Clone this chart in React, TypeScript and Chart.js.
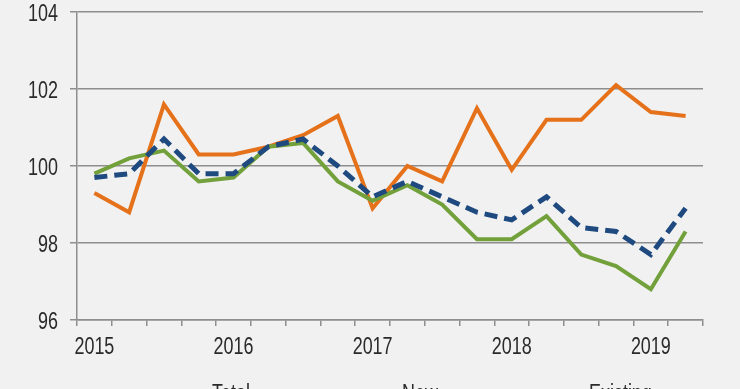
import React, { useEffect, useRef } from "react";
import { Chart, registerables } from "chart.js";

Chart.register(...registerables);

const quarters = [
  "2015Q1", "2015Q2", "2015Q3", "2015Q4",
  "2016Q1", "2016Q2", "2016Q3", "2016Q4",
  "2017Q1", "2017Q2", "2017Q3", "2017Q4",
  "2018Q1", "2018Q2", "2018Q3", "2018Q4",
  "2019Q1", "2019Q2",
];
const tickLabels = [
  "2015", "", "", "",
  "2016", "", "", "",
  "2017", "", "", "",
  "2018", "", "", "",
  "2019", "",
];
const totalValues = [99.7, 99.8, 100.7, 99.8, 99.8, 100.5, 100.7, 100.0, 99.2, 99.6, 99.2, 98.8, 98.6, 99.2, 98.4, 98.3, 97.7, 98.9];
const newValues = [99.3, 98.8, 101.6, 100.3, 100.3, 100.5, 100.8, 101.3, 98.9, 100.0, 99.6, 101.5, 99.9, 101.2, 101.2, 102.1, 101.4, 101.3];
const existingValues = [99.8, 100.2, 100.4, 99.6, 99.7, 100.5, 100.6, 99.6, 99.1, 99.5, 99.0, 98.1, 98.1, 98.7, 97.7, 97.4, 96.8, 98.3];
const seriesNames = ["Total", "New", "Existing"];
const yMin = 96;
const yMax = 104;
const yStep = 2;

const BLUE = "#1f4a80";
const ORANGE = "#e5721a";
const GREEN = "#72a03a";
const GRID = "#8e8e8e";
const TEXT = "#2a2a2a";
const FONT = "23px 'Liberation Sans', Arial, sans-serif";
const NARROW = 0.78;

function narrowText(ctx: CanvasRenderingContext2D, text: string, x: number, y: number, align: CanvasTextAlign) {
  ctx.save();
  ctx.translate(x, y);
  ctx.scale(NARROW, 1);
  ctx.textAlign = align;
  ctx.textBaseline = "alphabetic";
  ctx.fillText(text, 0, 0);
  ctx.restore();
}

const textPlugin = {
  id: "narrowText",
  afterDraw(chart: any) {
    const ctx = chart.ctx as CanvasRenderingContext2D;
    const xs = chart.scales.x;
    const ys = chart.scales.y;
    ctx.save();
    ctx.font = FONT;
    ctx.fillStyle = TEXT;
    // y tick labels
    ys.ticks.forEach((t: any) => {
      const y = ys.getPixelForValue(t.value);
      narrowText(ctx, String(t.value), 58, y + 9, "right");
    });
    // x tick labels
    tickLabels.forEach((lab, i) => {
      if (!lab) return;
      const x = xs.getPixelForValue(i);
      narrowText(ctx, lab, x, 354, "center");
    });
    // legend (cut off by the bottom edge, as in the reference)
    const items = [
      { label: seriesNames[0], color: BLUE, width: 5, dash: [13, 7], x0: 123, x1: 185, tx: 212 },
      { label: seriesNames[1], color: ORANGE, width: 4, dash: [], x0: 313, x1: 383, tx: 402 },
      { label: seriesNames[2], color: GREEN, width: 4, dash: [], x0: 500, x1: 568, tx: 589 },
    ];
    for (const it of items) {
      ctx.strokeStyle = it.color;
      ctx.lineWidth = it.width;
      ctx.setLineDash(it.dash);
      ctx.beginPath();
      ctx.moveTo(it.x0, 392);
      ctx.lineTo(it.x1, 392);
      ctx.stroke();
      ctx.fillStyle = TEXT;
      narrowText(ctx, it.label, it.tx, 401, "left");
    }
    ctx.restore();
  },
};

export default function App() {
  const canvasRef = useRef<HTMLCanvasElement | null>(null);

  useEffect(() => {
    if (!canvasRef.current) return;
    const chart = new Chart(canvasRef.current, {
      type: "line",
      data: {
        labels: quarters,
        datasets: [
          {
            label: seriesNames[0],
            data: totalValues,
            borderColor: BLUE,
            backgroundColor: BLUE,
            borderWidth: 5,
            borderDash: [13, 7],
            pointRadius: 0,
            tension: 0,
            order: 0,
          },
          {
            label: seriesNames[1],
            data: newValues,
            borderColor: ORANGE,
            backgroundColor: ORANGE,
            borderWidth: 4,
            pointRadius: 0,
            tension: 0,
            order: 2,
          },
          {
            label: seriesNames[2],
            data: existingValues,
            borderColor: GREEN,
            backgroundColor: GREEN,
            borderWidth: 4,
            pointRadius: 0,
            tension: 0,
            order: 1,
          },
        ],
      },
      options: {
        responsive: false,
        animation: false,
        devicePixelRatio: 1,
        layout: { padding: { top: 12, right: 37, bottom: 0, left: 0 } },
        plugins: {
          legend: { display: false },
          tooltip: { enabled: false },
        },
        scales: {
          x: {
            type: "category",
            offset: true,
            grid: {
              offset: true,
              drawOnChartArea: false,
              drawTicks: true,
              tickLength: 6,
              color: GRID,
              lineWidth: 1.5,
            },
            border: { display: true, color: GRID, width: 1.5 },
            ticks: {
              display: false,
              autoSkip: false,
              maxRotation: 0,
              minRotation: 0,
            },
            afterFit: (scale: any) => {
              scale.height = 69;
            },
          },
          y: {
            min: yMin,
            max: yMax,
            grid: {
              color: GRID,
              lineWidth: 1.5,
              tickLength: 7,
              drawTicks: true,
            },
            border: { display: true, color: GRID, width: 1.5 },
            ticks: {
              display: false,
              stepSize: yStep,
            },
            afterFit: (scale: any) => {
              scale.width = 77;
            },
          },
        },
      },
      plugins: [textPlugin],
    });
    return () => chart.destroy();
  }, []);

  return (
    <div
      style={{
        position: "fixed",
        left: 0,
        top: 0,
        width: 740,
        height: 389,
        overflow: "hidden",
        background: "#f1f1f1",
      }}
    >
      <canvas ref={canvasRef} width={740} height={389} style={{ display: "block" }} />
    </div>
  );
}
